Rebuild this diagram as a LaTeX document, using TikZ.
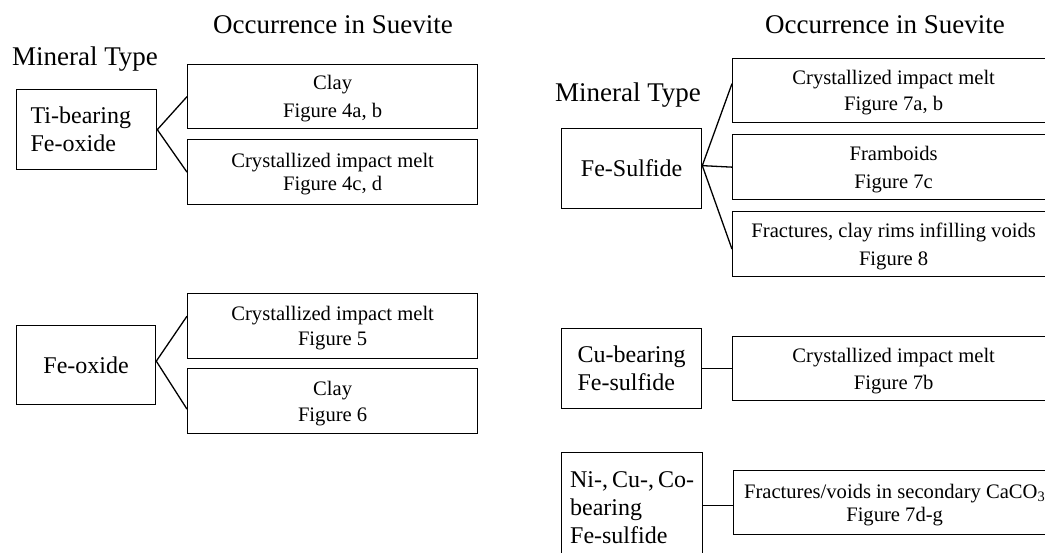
\documentclass[tikz,border=0pt]{standalone}
\usepackage{fontspec}
\setmainfont{Liberation Serif}
\begin{document}
\begin{tikzpicture}[x=1pt,y=-1pt,
  box/.style={draw,line width=1.3pt,anchor=north west,inner sep=0pt},
  lbox/.style={box,font=\fontsize{24}{28}\selectfont,align=left},
  cbox/.style={box,font=\fontsize{24}{28}\selectfont,minimum width=140pt,minimum height=80pt},
  rbox/.style={box,font=\fontsize{20.6}{#1}\selectfont,align=center,minimum width=322pt,minimum height=64pt},
  rbox/.default=26,
  title/.style={font=\fontsize{27}{32}\selectfont,anchor=base,inner sep=0pt},
  conn/.style={line width=1.3pt}]
\useasboundingbox (0,0) rectangle (1045,553);
\clip (0,0) rectangle (1045,553);

% titles
\node[title] (t1) at (333,34) {Occurrence in Suevite};
\node[title] (m1) at (85,66) {Mineral Type};
\node[title] (t2) at (885,34) {Occurrence in Suevite};
\node[title] (m2) at (628,102) {Mineral Type};

% mineral type boxes
\node[lbox,inner xsep=14pt,text width=112pt,minimum height=80pt] (ti) at (16,89) {Ti-bearing\\Fe-oxide};
\node[cbox,minimum width=139pt,minimum height=79pt] (fo) at (16,325) {Fe-oxide};
\node[cbox] (fs) at (561,128) {Fe-Sulfide};
\node[lbox,inner xsep=16pt,text width=108pt,minimum height=80pt] (cu) at (561,328) {Cu-bearing\\Fe-sulfide};
\node[lbox,inner xsep=5pt,inner ysep=19pt,minimum width=141pt] (ni) at (561,452) {Ni-,\,Cu-,\,Co-\\bearing\\Fe-sulfide};

% occurrence boxes, left column
\node[rbox=28,minimum width=290pt] (cl1) at (187,64) {Clay\\\smash{Figure 4a, b}};
\node[rbox=23,minimum width=290pt,minimum height=65pt] (cr1) at (187,139) {Crystallized impact melt\\\smash{Figure 4c, d}};
\node[rbox=25,minimum width=290pt,minimum height=65pt] (cr2) at (187,293) {Crystallized impact melt\\\smash{Figure 5}};
\node[rbox=26,minimum width=290pt,minimum height=65pt] (cl2) at (187,368) {Clay\\\smash{Figure 6}};

% occurrence boxes, right column
\node[rbox=26] (cr3) at (732,58) {Crystallized impact melt\\\smash{Figure 7a, b}};
\node[rbox=28,minimum height=65pt] (fb) at (732,134) {Framboids\\\smash{Figure 7c}};
\node[rbox=28,minimum height=65pt] (fr) at (732,211) {Fractures, clay rims infilling voids\\\smash{Figure 8}};
\node[rbox=27] (cr4) at (732,336) {Crystallized impact melt\\\smash{Figure 7b}};
\node[rbox=23] (fv) at (733,470) {Fractures/voids in secondary CaCO\textsubscript{3}\\\smash{Figure 7d-g}};

% connectors
\draw[conn] (cl1.west) -- (ti.east) -- (cr1.west);
\draw[conn] ([yshift=10pt]cr2.west) -- ([yshift=4pt]fo.east) -- ([yshift=-8pt]cl2.west);
\draw[conn] ([yshift=7pt]cr3.west) -- ([yshift=3pt]fs.east) -- ([yshift=-5pt]fr.west);
\draw[conn] ([yshift=3pt]fs.east) -- (fb.west);
\draw[conn] (cu.east) -- (cr4.west);
\draw[conn] ([yshift=-3pt]fv.west -| ni.east) -- ([yshift=-3pt]fv.west);
\end{tikzpicture}
\end{document}
